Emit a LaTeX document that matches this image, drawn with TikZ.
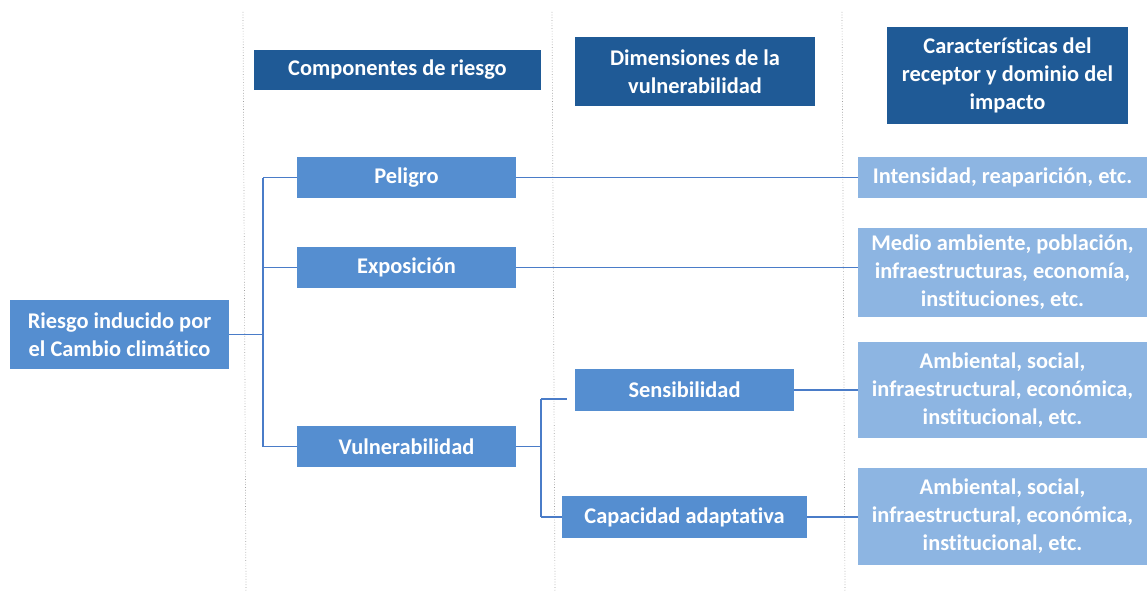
\documentclass[tikz,border=0pt]{standalone}
\usepackage{fontspec}
\setmainfont{Carlito}[Ligatures={NoCommon}]
\definecolor{hdrblue}{HTML}{1F5A96}
\definecolor{midblue}{HTML}{558ED0}
\definecolor{lightblue}{HTML}{8DB5E2}
\definecolor{connblue}{HTML}{4A7CC8}
\definecolor{sepgray}{HTML}{A0A0A0}
\tikzset{
  box/.style={inner sep=0pt, align=center, text=white, font=\bfseries\fontsize{22.4}{28}\selectfont},
  hdr/.style={box, fill=hdrblue},
  mid/.style={box, fill=midblue},
  lit/.style={box, fill=lightblue},
  conn/.style={draw=connblue, line width=1.1pt},
  sepline/.style={draw=sepgray, line width=0.7pt, dotted}
}
\begin{document}
\begin{tikzpicture}[x=1pt,y=-1pt]
\useasboundingbox (0,0) rectangle (1147,591);
% separators
\coordinate (s1a) at (243,12); \coordinate (s1b) at (246,591);
\coordinate (s2a) at (552,12); \coordinate (s2b) at (555,591);
\coordinate (s3a) at (842,12); \coordinate (s3b) at (845,591);
\draw[sepline] (s1a) -- (s1b);
\draw[sepline] (s2a) -- (s2b);
\draw[sepline] (s3a) -- (s3b);
% headers
\node[hdr, minimum width=287pt, minimum height=40pt] (h1) at (397.5,70) {Componentes de riesgo};
\node[hdr, minimum width=240pt, minimum height=69pt] (h2) at (695,71.5) {Dimensiones de la\\vulnerabilidad};
\node[hdr, minimum width=241pt, minimum height=97pt] (h3) at (1007.5,75.5) {Características del\\receptor y dominio del\\impacto};
% tree
\node[mid, minimum width=219pt, minimum height=69pt] (root) at (119.5,334.5) {Riesgo inducido por\\el Cambio climático};
\node[mid, minimum width=219pt, minimum height=41pt] (pel) at (406.5,177.5) {Peligro};
\node[mid, minimum width=219pt, minimum height=41pt] (exp) at (406.5,267.5) {Exposición};
\node[mid, minimum width=219pt, minimum height=41pt] (vul) at (406.5,446.5) {Vulnerabilidad};
\node[mid, minimum width=219pt, minimum height=42pt] (sens) at (684.5,390) {Sensibilidad};
\node[mid, minimum width=245pt, minimum height=42pt] (cap) at (684.5,517) {Capacidad adaptativa};
% right column
\node[lit, minimum width=289pt, minimum height=41pt] (r1) at (1002.5,177.5) {Intensidad, reaparición, etc.};
\node[lit, minimum width=289pt, minimum height=89pt] (r2) at (1002.5,272.5) {Medio ambiente, población,\\infraestructuras, economía,\\instituciones, etc.};
\node[lit, minimum width=289pt, minimum height=96pt] (r3) at (1002.5,390) {Ambiental, social,\\infraestructural, económica,\\institucional, etc.};
\node[lit, minimum width=289pt, minimum height=97pt] (r4) at (1002.5,516.5) {Ambiental, social,\\infraestructural, económica,\\institucional, etc.};
% connectors
\coordinate (t1) at (263,0);
\coordinate (t2) at (541,0);
\coordinate (sb) at (567,399);
\draw[conn] (root.east) -- (root.east -| t1);
\draw[conn] (pel.west -| t1) -- (vul.west -| t1);
\draw[conn] (pel.west -| t1) -- (pel.west);
\draw[conn] (exp.west -| t1) -- (exp.west);
\draw[conn] (vul.west -| t1) -- (vul.west);
\draw[conn] (vul.east) -- (vul.east -| t2);
\draw[conn] (sb -| t2) -- (cap.west -| t2);
\draw[conn] (sb -| t2) -- (sb);
\draw[conn] (cap.west -| t2) -- (cap.west);
\draw[conn] (pel.east) -- (r1.west);
\draw[conn] (exp.east) -- (exp.east -| r2.west);
\draw[conn] (sens.east) -- (r3.west);
\draw[conn] (cap.east) -- (cap.east -| r4.west);
\end{tikzpicture}
\end{document}
